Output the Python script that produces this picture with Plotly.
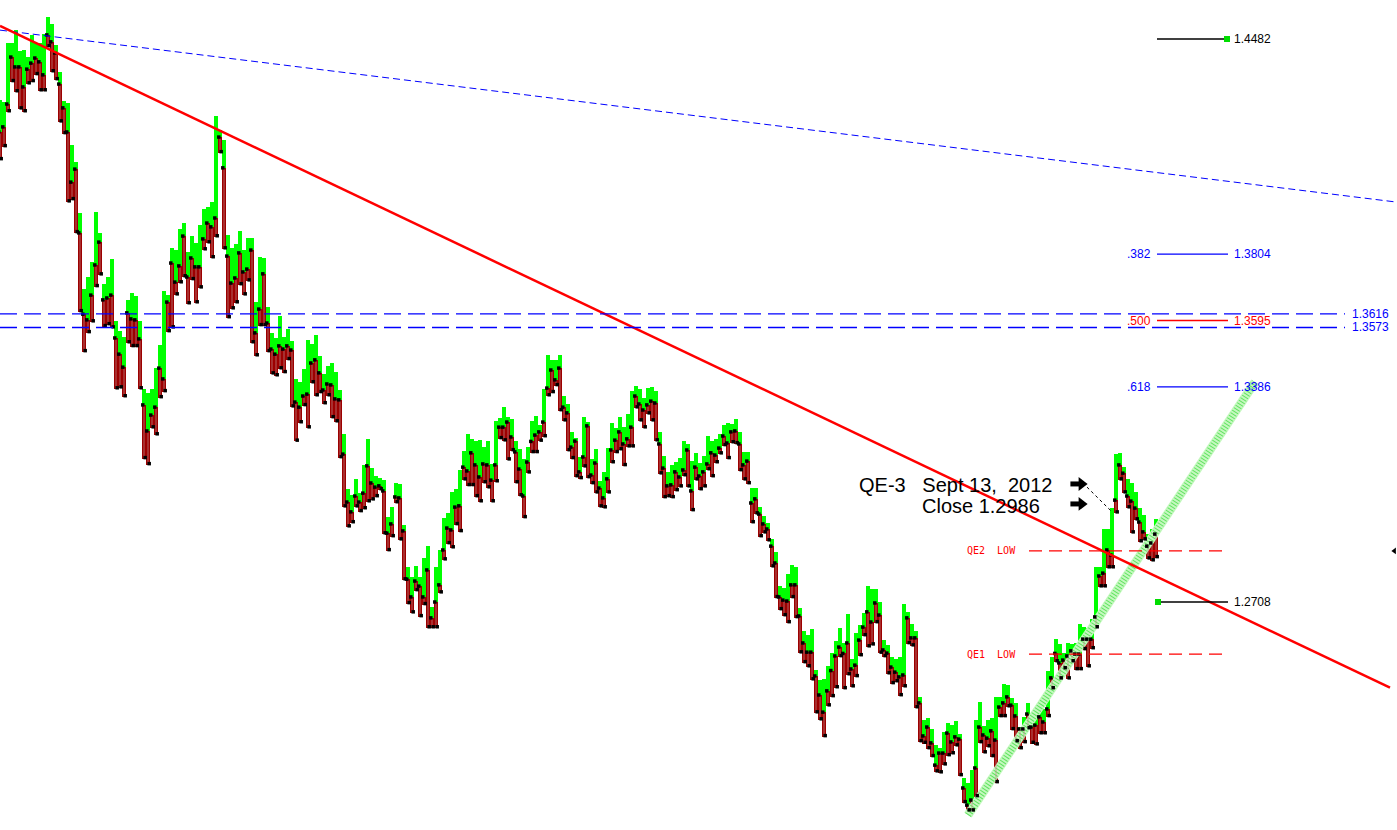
import plotly.graph_objects as go

# daily bars (top of green part, green/red split, bottom of red part)
bar_high = [
    1.4290, 1.4283, 1.4469, 1.4469, 1.4510, 1.4444, 1.4447, 1.4425, 1.4495, 1.4469,
    1.4469, 1.4498, 1.4551, 1.4529, 1.4463, 1.4378, 1.4287, 1.4280, 1.4148, 1.4094,
    1.3934, 1.3694, 1.3732, 1.3779, 1.3937, 1.3871, 1.3710, 1.3732, 1.3789, 1.3593,
    1.3562, 1.3543, 1.3660, 1.3682, 1.3672, 1.3593, 1.3379, 1.3367, 1.3379, 1.3445,
    1.3518, 1.3688, 1.3675, 1.3823, 1.3817, 1.3883, 1.3902, 1.3811, 1.3861, 1.3839,
    1.3896, 1.3946, 1.3953, 1.3968, 1.4239, 1.4195, 1.4164, 1.3864, 1.3823, 1.3836,
    1.3877, 1.3817, 1.3855, 1.3855, 1.3653, 1.3795, 1.3792, 1.3638, 1.3556, 1.3540,
    1.3609, 1.3543, 1.3568, 1.3530, 1.3411, 1.3401, 1.3442, 1.3534, 1.3521, 1.3549,
    1.3483, 1.3426, 1.3452, 1.3461, 1.3433, 1.3376, 1.3237, 1.3064, 1.3045, 1.3096,
    1.3051, 1.3140, 1.3222, 1.3130, 1.3105, 1.3099, 1.3092, 1.2976, 1.3007, 1.3083,
    1.3080, 1.2951, 1.2818, 1.2787, 1.2821, 1.2787, 1.2847, 1.2884, 1.2692, 1.2818,
    1.2872, 1.2973, 1.2988, 1.3055, 1.3064, 1.3124, 1.3184, 1.3237, 1.3222, 1.3215,
    1.3218, 1.3196, 1.3215, 1.3143, 1.3278, 1.3288, 1.3322, 1.3291, 1.3285, 1.3214,
    1.3190, 1.3159, 1.3196, 1.3278, 1.3294, 1.3266, 1.3379, 1.3486, 1.3471, 1.3471,
    1.3486, 1.3357, 1.3332, 1.3244, 1.3225, 1.3165, 1.3291, 1.3275, 1.3159, 1.3190,
    1.3089, 1.3118, 1.3193, 1.3272, 1.3256, 1.3291, 1.3259, 1.3300, 1.3373, 1.3389,
    1.3379, 1.3351, 1.3382, 1.3385, 1.3373, 1.3244, 1.3168, 1.3118, 1.3140, 1.3149,
    1.3162, 1.3215, 1.3206, 1.3152, 1.3178, 1.3146, 1.3168, 1.3231, 1.3214, 1.3222,
    1.3237, 1.3266, 1.3272, 1.3269, 1.3285, 1.3244, 1.3181, 1.3181, 1.3067, 1.3067,
    1.3007, 1.2979, 1.2957, 1.2907, 1.2866, 1.2758, 1.2752, 1.2796, 1.2825, 1.2818,
    1.2689, 1.2617, 1.2604, 1.2623, 1.2494, 1.2462, 1.2465, 1.2506, 1.2546, 1.2585,
    1.2626, 1.2579, 1.2670, 1.2528, 1.2610, 1.2636, 1.2673, 1.2758, 1.2749, 1.2749,
    1.2708, 1.2588, 1.2572, 1.2535, 1.2528, 1.2535, 1.2702, 1.2677, 1.2639, 1.2617,
    1.2409, 1.2336, 1.2342, 1.2308, 1.2257, 1.2248, 1.2298, 1.2327, 1.2320, 1.2333,
    1.2292, 1.2153, 1.2138, 1.2179, 1.2336, 1.2393, 1.2317, 1.2336, 1.2342, 1.2409,
    1.2409, 1.2450, 1.2447, 1.2406, 1.2390, 1.2314, 1.2346, 1.2390, 1.2355, 1.2374,
    1.2380, 1.2371, 1.2492, 1.2535, 1.2591, 1.2576, 1.2547, 1.2579, 1.2576, 1.2579,
    1.2639, 1.2629, 1.2626, 1.2654, 1.2818, 1.2818, 1.2938, 1.2938, 1.3004, 1.3174,
    1.3178, 1.3133, 1.3096, 1.3083, 1.3055, 1.3004, 1.2982, 1.2922, 1.2938, 1.2970,
]
bar_mid = [
    1.4189, 1.4205, 1.4277, 1.4425, 1.4394, 1.4394, 1.4331, 1.4387, 1.4406, 1.4422,
    1.4410, 1.4369, 1.4495, 1.4473, 1.4438, 1.4340, 1.4265, 1.4189, 1.4031, 1.4072,
    1.3871, 1.3615, 1.3597, 1.3675, 1.3770, 1.3842, 1.3660, 1.3666, 1.3675, 1.3540,
    1.3489, 1.3448, 1.3619, 1.3600, 1.3597, 1.3537, 1.3329, 1.3247, 1.3297, 1.3322,
    1.3445, 1.3411, 1.3653, 1.3776, 1.3716, 1.3767, 1.3861, 1.3732, 1.3792, 1.3764,
    1.3764, 1.3852, 1.3902, 1.3890, 1.3918, 1.4173, 1.4076, 1.3798, 1.3713, 1.3729,
    1.3808, 1.3748, 1.3757, 1.3817, 1.3556, 1.3631, 1.3742, 1.3587, 1.3505, 1.3489,
    1.3515, 1.3505, 1.3515, 1.3502, 1.3338, 1.3322, 1.3357, 1.3363, 1.3461, 1.3471,
    1.3430, 1.3376, 1.3395, 1.3392, 1.3348, 1.3345, 1.3174, 1.3023, 1.2992, 1.3042,
    1.3023, 1.3051, 1.3137, 1.3083, 1.3070, 1.3074, 1.3058, 1.2925, 1.2954, 1.3039,
    1.3036, 1.2932, 1.2780, 1.2724, 1.2774, 1.2758, 1.2724, 1.2809, 1.2658, 1.2708,
    1.2762, 1.2872, 1.2941, 1.2935, 1.3007, 1.3011, 1.3133, 1.3121, 1.3178, 1.3140,
    1.3102, 1.3143, 1.3140, 1.3092, 1.3140, 1.3259, 1.3259, 1.3275, 1.3228, 1.3181,
    1.3127, 1.3042, 1.3149, 1.3214, 1.3234, 1.3244, 1.3275, 1.3382, 1.3439, 1.3408,
    1.3445, 1.3322, 1.3304, 1.3196, 1.3215, 1.3118, 1.3165, 1.3263, 1.3108, 1.3146,
    1.3067, 1.3036, 1.3096, 1.3187, 1.3218, 1.3244, 1.3206, 1.3222, 1.3259, 1.3357,
    1.3332, 1.3313, 1.3329, 1.3341, 1.3335, 1.3206, 1.3130, 1.3074, 1.3077, 1.3118,
    1.3102, 1.3124, 1.3187, 1.3058, 1.3133, 1.3105, 1.3118, 1.3143, 1.3178, 1.3171,
    1.3193, 1.3231, 1.3209, 1.3244, 1.3247, 1.3206, 1.3140, 1.3152, 1.3020, 1.3033,
    1.2985, 1.2954, 1.2938, 1.2884, 1.2831, 1.2724, 1.2714, 1.2711, 1.2762, 1.2762,
    1.2664, 1.2579, 1.2550, 1.2550, 1.2475, 1.2415, 1.2361, 1.2428, 1.2492, 1.2538,
    1.2566, 1.2546, 1.2579, 1.2497, 1.2509, 1.2588, 1.2629, 1.2677, 1.2645, 1.2705,
    1.2667, 1.2557, 1.2547, 1.2503, 1.2487, 1.2472, 1.2478, 1.2658, 1.2595, 1.2595,
    1.2390, 1.2286, 1.2314, 1.2264, 1.2194, 1.2232, 1.2232, 1.2295, 1.2267, 1.2283,
    1.2276, 1.2122, 1.2068, 1.2084, 1.2185, 1.2314, 1.2289, 1.2279, 1.2302, 1.2273,
    1.2377, 1.2390, 1.2409, 1.2383, 1.2349, 1.2308, 1.2308, 1.2355, 1.2314, 1.2320,
    1.2346, 1.2330, 1.2371, 1.2469, 1.2546, 1.2516, 1.2525, 1.2538, 1.2554, 1.2544,
    1.2544, 1.2591, 1.2591, 1.2591, 1.2661, 1.2790, 1.2799, 1.2872, 1.2856, 1.3029,
    1.3140, 1.3114, 1.3042, 1.3026, 1.3004, 1.2960, 1.2929, 1.2884, 1.2894, 1.2922,
]
bar_low = [
    1.4101, 1.4142, 1.4252, 1.4347, 1.4315, 1.4261, 1.4252, 1.4340, 1.4347, 1.4369,
    1.4318, 1.4318, 1.4457, 1.4378, 1.4353, 1.4220, 1.4183, 1.3968, 1.3975, 1.3871,
    1.3622, 1.3496, 1.3556, 1.3590, 1.3701, 1.3738, 1.3575, 1.3581, 1.3571, 1.3379,
    1.3382, 1.3354, 1.3524, 1.3512, 1.3512, 1.3379, 1.3159, 1.3140, 1.3256, 1.3234,
    1.3351, 1.3370, 1.3559, 1.3571, 1.3675, 1.3713, 1.3732, 1.3647, 1.3723, 1.3650,
    1.3697, 1.3817, 1.3839, 1.3792, 1.3858, 1.4123, 1.3820, 1.3603, 1.3631, 1.3650,
    1.3707, 1.3675, 1.3719, 1.3524, 1.3483, 1.3578, 1.3578, 1.3496, 1.3426, 1.3420,
    1.3442, 1.3430, 1.3471, 1.3322, 1.3214, 1.3272, 1.3326, 1.3256, 1.3398, 1.3357,
    1.3367, 1.3332, 1.3357, 1.3288, 1.3275, 1.3162, 1.3007, 1.2944, 1.2957, 1.3007,
    1.2992, 1.3001, 1.3023, 1.3029, 1.3039, 1.3061, 1.2922, 1.2869, 1.2913, 1.3020,
    1.2903, 1.2777, 1.2702, 1.2673, 1.2743, 1.2661, 1.2699, 1.2626, 1.2626, 1.2626,
    1.2736, 1.2840, 1.2891, 1.2878, 1.2951, 1.2929, 1.3092, 1.3074, 1.3074, 1.3039,
    1.3023, 1.3083, 1.3067, 1.3023, 1.3086, 1.3222, 1.3215, 1.3155, 1.3184, 1.3083,
    1.3042, 1.2973, 1.3114, 1.3178, 1.3178, 1.3214, 1.3228, 1.3357, 1.3367, 1.3389,
    1.3310, 1.3278, 1.3184, 1.3159, 1.3102, 1.3096, 1.3133, 1.3099, 1.3080, 1.3051,
    1.3007, 1.3004, 1.3051, 1.3146, 1.3178, 1.3187, 1.3137, 1.3196, 1.3196, 1.3319,
    1.3278, 1.3256, 1.3300, 1.3278, 1.3215, 1.3111, 1.3036, 1.3039, 1.3036, 1.3058,
    1.3070, 1.3105, 1.3070, 1.2995, 1.3092, 1.3061, 1.3070, 1.3124, 1.3102, 1.3146,
    1.3174, 1.3200, 1.3159, 1.3209, 1.3206, 1.3121, 1.3092, 1.3080, 1.2957, 1.2985,
    1.2913, 1.2925, 1.2900, 1.2818, 1.2721, 1.2683, 1.2664, 1.2642, 1.2721, 1.2658,
    1.2547, 1.2516, 1.2503, 1.2462, 1.2358, 1.2336, 1.2283, 1.2380, 1.2409, 1.2437,
    1.2535, 1.2434, 1.2478, 1.2440, 1.2472, 1.2538, 1.2601, 1.2566, 1.2572, 1.2642,
    1.2546, 1.2535, 1.2481, 1.2450, 1.2456, 1.2412, 1.2440, 1.2576, 1.2569, 1.2374,
    1.2267, 1.2262, 1.2245, 1.2220, 1.2172, 1.2169, 1.2194, 1.2223, 1.2229, 1.2254,
    1.2160, 1.2075, 1.2049, 1.2049, 1.2094, 1.2264, 1.2232, 1.2251, 1.2220, 1.2138,
    1.2346, 1.2346, 1.2377, 1.2305, 1.2267, 1.2245, 1.2264, 1.2308, 1.2262, 1.2257,
    1.2292, 1.2292, 1.2346, 1.2434, 1.2519, 1.2465, 1.2497, 1.2465, 1.2519, 1.2494,
    1.2494, 1.2557, 1.2503, 1.2560, 1.2626, 1.2755, 1.2755, 1.2815, 1.2815, 1.2988,
    1.3092, 1.3051, 1.3004, 1.2925, 1.2966, 1.2897, 1.2903, 1.2843, 1.2837, 1.2847,
]
bar_idx = list(range(len(bar_high)))

# trend lines: (bar index, price) end points
red_trend_x = [0, 347.5]
red_trend_y = [1.4523, 1.2438]
blue_trend_x = [0, 349.25]
blue_trend_y = [1.4510, 1.3968]
green_trend_x = [242, 313.75]
green_trend_y = [1.2037, 1.3401]

# horizontal levels
band_levels = [1.3616, 1.3573]
fib_ratios = [".382", ".500", ".618"]
fib_prices = [1.3804, 1.3595, 1.3386]
fib_colors = ["#0000ff", "#ff0000", "#0000ff"]
swing_high = 1.4482
swing_low = 1.2708
qe_names = ["QE2  LOW", "QE1  LOW"]
qe_levels = [1.2869, 1.2544]

qe3_line1 = "QE-3   Sept 13,  2012"
qe3_line2 = "Close 1.2986"
arrow_prices = [1.3080, 1.3017]

fig = go.Figure()

# hatched rising channel line (under the bars)
fig.add_trace(go.Scatter(x=green_trend_x, y=green_trend_y, mode="lines",
                         line=dict(color="#c4f8be", width=9), hoverinfo="skip"))
fig.add_trace(go.Scatter(x=green_trend_x, y=green_trend_y, mode="lines",
                         line=dict(color="#5ee25e", width=7, dash="1px,2px"), hoverinfo="skip"))

# bars: green upper part, dark red lower part
fig.add_trace(go.Bar(x=bar_idx, y=[h - m for h, m in zip(bar_high, bar_mid)], base=bar_mid,
                     width=1.15, marker=dict(color="#00ff00", line=dict(width=0))))
fig.add_trace(go.Bar(x=bar_idx, y=[m - l for m, l in zip(bar_mid, bar_low)], base=bar_low,
                     width=1.15, marker=dict(color="#9c0000", line=dict(width=0))))

# light stripe down the red part
sx, sy = [], []
for k, m, l in zip(bar_idx, bar_mid, bar_low):
    sx += [k, k, None]
    sy += [l + 0.0003, m - 0.0003, None]
fig.add_trace(go.Scatter(x=sx, y=sy, mode="lines", line=dict(color="#bf8a8a", width=0.7),
                         hoverinfo="skip"))

# black ticks
fig.add_trace(go.Scatter(x=[k - 0.3 for k in bar_idx], y=bar_mid, mode="markers",
                         marker=dict(symbol="square", size=3.5, color="black"), hoverinfo="skip"))
fig.add_trace(go.Scatter(x=[k + 0.3 for k in bar_idx], y=[l + 0.0004 for l in bar_low], mode="markers",
                         marker=dict(symbol="square", size=3.5, color="black"), hoverinfo="skip"))

# trend lines
fig.add_trace(go.Scatter(x=blue_trend_x, y=blue_trend_y, mode="lines",
                         line=dict(color="#0000ff", width=1, dash="7px,4px"), hoverinfo="skip"))
fig.add_trace(go.Scatter(x=red_trend_x, y=red_trend_y, mode="lines",
                         line=dict(color="#ff0000", width=2.5), hoverinfo="skip"))

lab_font = dict(family="Liberation Sans", size=12)

# blue dashed band
for lv in band_levels:
    fig.add_trace(go.Scatter(x=[0, 336.25], y=[lv, lv], mode="lines",
                             line=dict(color="#0000ff", width=1.3, dash="17px,7px"), hoverinfo="skip"))
    fig.add_annotation(x=337.5, y=lv, text=f"{lv:.4f}", showarrow=False, xanchor="left",
                       yanchor="middle", font=dict(lab_font, color="#0000ff"))

# fibonacci retracements
for r, p, c in zip(fib_ratios, fib_prices, fib_colors):
    fig.add_trace(go.Scatter(x=[289.25, 307], y=[p, p], mode="lines",
                             line=dict(color=c, width=1.3), hoverinfo="skip"))
    fig.add_annotation(x=288.2, y=p, text=r, showarrow=False, xanchor="right",
                       yanchor="middle", font=dict(lab_font, color=c))
    fig.add_annotation(x=308, y=p, text=f"{p:.4f}", showarrow=False, xanchor="left",
                       yanchor="middle", font=dict(lab_font, color=c))

# swing high / low
for p, mx in [(swing_high, 306.75), (swing_low, 289.5)]:
    fig.add_trace(go.Scatter(x=[289.25, 307], y=[p, p], mode="lines",
                             line=dict(color="black", width=1.3), hoverinfo="skip"))
    fig.add_trace(go.Scatter(x=[mx], y=[p], mode="markers",
                             marker=dict(symbol="square", size=6, color="#00dd00"), hoverinfo="skip"))
    fig.add_annotation(x=308, y=p, text=f"{p:.4f}", showarrow=False, xanchor="left",
                       yanchor="middle", font=dict(lab_font, color="black"))

# QE lows
for name, lv in zip(qe_names, qe_levels):
    fig.add_trace(go.Scatter(x=[257.25, 307], y=[lv, lv], mode="lines",
                             line=dict(color="#ff0000", width=1.3, dash="13px,7px"), hoverinfo="skip"))
    fig.add_annotation(x=241.25, y=lv, text=name.replace(" ", "\u00a0"), showarrow=False,
                       xanchor="left", yanchor="middle",
                       font=dict(family="DejaVu Sans Mono", size=10, color="#ff0000"))

# QE-3 note
big = dict(family="Liberation Sans", size=20, color="black")
fig.add_annotation(x=214.25, y=1.3077, text=qe3_line1.replace(" ", "\u00a0"), showarrow=False,
                   xanchor="left", yanchor="middle", font=big)
fig.add_annotation(x=230, y=1.3010, text=qe3_line2, showarrow=False,
                   xanchor="left", yanchor="middle", font=big)
# two block arrows: thick stem plus head
for p in arrow_prices:
    fig.add_trace(go.Scatter(x=[267.6, 269.9], y=[p, p], mode="lines",
                             line=dict(color="black", width=5), hoverinfo="skip"))
    fig.add_trace(go.Scatter(x=[270.4], y=[p], mode="markers",
                             marker=dict(symbol="triangle-right", size=12, color="black",
                                         line=dict(width=0)), hoverinfo="skip"))
fig.add_trace(go.Scatter(x=[271.75, 278], y=[1.3070, 1.2992], mode="lines",
                         line=dict(color="black", width=1, dash="dot"), hoverinfo="skip"))

# small pointer at right edge
fig.add_trace(go.Scatter(x=[348.6], y=[qe_levels[0]], mode="markers",
                         marker=dict(symbol="triangle-left", size=6, color="black"), hoverinfo="skip"))

fig.update_layout(
    width=1397, height=830,
    margin=dict(l=0, r=0, t=0, b=0),
    paper_bgcolor="white", plot_bgcolor="white",
    showlegend=False, barmode="overlay", bargap=0,
    xaxis=dict(range=[0, 349.25], visible=False, fixedrange=True),
    yaxis=dict(range=[1.19896, 1.46049], visible=False, fixedrange=True),
)

fig.write_html("out.html", config={"displayModeBar": False},
               post_script="document.body.style.margin='0px';document.body.style.overflow='hidden';")
